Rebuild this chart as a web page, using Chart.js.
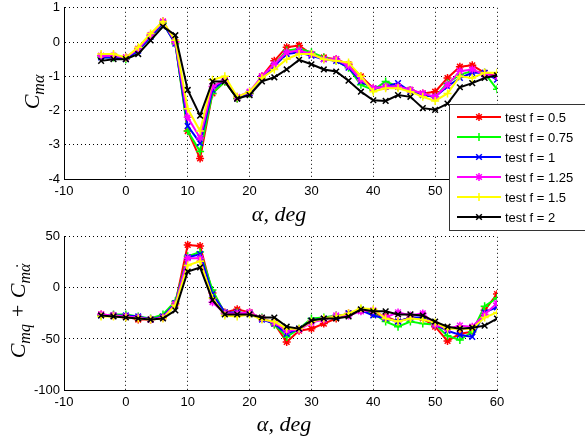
<!DOCTYPE html>
<html>
<head>
<meta charset="utf-8">
<script src="https://cdn.jsdelivr.net/npm/chart.js@4.4.0/dist/chart.umd.min.js"></script>
<style>
    html, body { margin: 0; padding: 0; background: #fff; }
    #marco { position: relative; width: 585px; height: 439px; overflow: hidden; }
    canvas { position: absolute; left: 0; }
    #graficaInferior { top: 225px; }
    #graficaSuperior { top: -4px; }
</style>
</head>
<body>
<div id="marco">
    <canvas id="graficaInferior" width="585" height="214"></canvas>
    <canvas id="graficaSuperior" width="585" height="236"></canvas>
</div>
<script>
// Ángulo de ataque (grados)
const angulos = [-4, -2, 0, 2, 4, 6, 8, 10, 12, 14, 16, 18, 20, 22, 24, 26, 28, 30, 32, 34, 36, 38, 40, 42, 44, 46, 48, 50, 52, 54, 56, 58, 60];

const etiquetas = ['test f = 0.5', 'test f = 0.75', 'test f = 1', 'test f = 1.25', 'test f = 1.5', 'test f = 2'];

// C_m alpha (gráfica superior)
const cma_f05  = [-0.4, -0.4, -0.45, -0.2, 0.2, 0.6, 0.0, -2.6, -3.4, -1.5, -1.15, -1.65, -1.5, -1.0, -0.55, -0.15, -0.1, -0.35, -0.45, -0.5, -0.65, -1.0, -1.35, -1.3, -1.3, -1.4, -1.5, -1.45, -1.05, -0.72, -0.68, -0.9, -1.0];
const cma_f075 = [-0.45, -0.45, -0.5, -0.25, 0.15, 0.55, -0.05, -2.6, -3.2, -1.5, -1.15, -1.65, -1.5, -1.05, -0.65, -0.25, -0.2, -0.3, -0.45, -0.55, -0.75, -1.25, -1.4, -1.15, -1.3, -1.4, -1.55, -1.6, -1.2, -0.95, -0.85, -0.9, -1.38];
const cma_f1   = [-0.45, -0.45, -0.5, -0.25, 0.15, 0.55, -0.05, -2.45, -2.95, -1.4, -1.1, -1.65, -1.5, -1.05, -0.7, -0.35, -0.3, -0.4, -0.5, -0.55, -0.75, -1.15, -1.35, -1.3, -1.2, -1.45, -1.55, -1.6, -1.3, -1.05, -0.9, -0.9, -1.1];
const cma_f125 = [-0.4, -0.4, -0.45, -0.2, 0.2, 0.6, 0.0, -2.2, -2.8, -1.3, -1.1, -1.6, -1.45, -1.0, -0.65, -0.3, -0.25, -0.35, -0.5, -0.5, -0.7, -1.1, -1.35, -1.3, -1.3, -1.4, -1.5, -1.6, -1.25, -0.85, -0.8, -0.95, -1.0];
const cma_f15  = [-0.35, -0.35, -0.45, -0.15, 0.25, 0.6, 0.05, -1.95, -2.6, -1.1, -1.0, -1.6, -1.45, -1.05, -0.8, -0.5, -0.35, -0.35, -0.5, -0.55, -0.6, -1.0, -1.45, -1.35, -1.35, -1.45, -1.6, -1.72, -1.5, -1.0, -1.05, -0.9, -0.9];
const cma_f2   = [-0.55, -0.5, -0.5, -0.35, 0.05, 0.45, 0.2, -1.4, -2.15, -1.15, -1.15, -1.65, -1.55, -1.15, -1.03, -0.8, -0.52, -0.65, -0.8, -0.86, -1.13, -1.45, -1.7, -1.72, -1.55, -1.6, -1.93, -1.98, -1.8, -1.32, -1.2, -1.05, -0.97];

// C_mq + C_m alpha punto (gráfica inferior)
const cmq_f05  = [-26, -27, -28, -31, -31, -29, -15, 42, 41, -5, -24, -21, -24, -30, -35, -53, -42, -40, -35, -30, -25, -22, -25, -28, -33, -29, -30, -38, -52, -45, -43, -22, -6];
const cmq_f075 = [-27, -26, -26, -28, -30, -26, -13, 31, 35, -2, -25, -24, -25, -29, -36, -48, -40, -30, -29, -27, -26, -21, -25, -33, -38, -33, -35, -36, -47, -51, -43, -18, -10];
const cmq_f1   = [-27, -27, -27, -28, -31, -28, -15, 30, 33, -6, -24, -24, -25, -31, -35, -45, -40, -32, -30, -29, -25, -22, -27, -30, -33, -29, -29, -36, -42, -46, -48, -24, -19];
const cmq_f125 = [-26, -27, -28, -29, -31, -29, -16, 29, 29, -14, -25, -25, -24, -30, -34, -42, -41, -34, -31, -27, -27, -23, -22, -29, -24, -27, -25, -36, -40, -37, -38, -26, -15];
const cmq_f15  = [-28, -28, -29, -30, -31, -30, -17, 22, 26, -10, -27, -28, -26, -31, -33, -40, -40, -33, -30, -28, -25, -20, -21, -30, -33, -30, -31, -34, -40, -40, -40, -29, -24];
const cmq_f2   = [-27, -28, -29, -30, -31, -30, -22, 16, 20, -12, -26, -26, -26, -29, -29, -38, -40, -32, -30, -30, -28, -21, -23, -23, -26, -26, -27, -33, -38, -40, -39, -37, -30];

const colores = ['#FF0000', '#00FF00', '#0000FF', '#FF00FF', '#FFFF00', '#000000'];
const marcadores = ['star', 'cross', 'crossRot', 'star', 'cross', 'crossRot'];

const fuenteTicks = { family: '"Liberation Sans", Arial, sans-serif', size: 13 };

function armarDatasets(series) {
    return series.map((valores, i) => ({
        label: etiquetas[i],
        data: angulos.map((a, j) => ({ x: a, y: valores[j] })),
        showLine: true,
        borderColor: colores[i],
        backgroundColor: colores[i],
        borderWidth: 2,
        pointStyle: marcadores[i],
        pointRadius: 4,
        pointBorderWidth: 1.5,
        pointBorderColor: colores[i],
        pointBackgroundColor: colores[i],
        tension: 0,
        order: series.length - i   // negro encima de todo
    }));
}

// Texto matemático con subíndices (C_mα, etc.); p[2] = punto sobre la última letra
function dibujarMate(ctx, partes, cx, cy, rotar) {
    const fNormal = 'italic 22px "Liberation Serif", "DejaVu Serif", serif';
    const fSub = 'italic 16px "Liberation Serif", "DejaVu Serif", serif';
    let total = 0;
    partes.forEach(p => {
        ctx.font = p[1] ? fSub : fNormal;
        total += ctx.measureText(p[0]).width;
    });
    ctx.save();
    ctx.translate(cx, cy);
    if (rotar) ctx.rotate(-Math.PI / 2);
    ctx.fillStyle = '#000';
    ctx.textBaseline = 'alphabetic';
    ctx.textAlign = 'left';
    let x = -total / 2;
    partes.forEach(p => {
        ctx.font = p[1] ? fSub : fNormal;
        const yBase = p[1] ? 11 : 6;
        ctx.fillText(p[0], x, yBase);
        const ancho = ctx.measureText(p[0]).width;
        if (p[2]) {
            const ult = p[0].slice(-1);
            const xc = x + ancho - ctx.measureText(ult).width / 2 + 1;
            ctx.textAlign = 'center';
            ctx.fillText('\u02D9', xc, yBase - 3);
            ctx.textAlign = 'left';
        }
        x += ancho;
    });
    ctx.restore();
}

function pluginTitulos(tituloY, xTitulo, yTitulo, posTituloX, extra) {
    return {
        id: 'titulos',
        afterDraw(chart) {
            const ctx = chart.ctx;
            dibujarMate(ctx, tituloY, xTitulo, yTitulo, true);
            dibujarMate(ctx, [['α, deg', false]], posTituloX[0], posTituloX[1], false);
            if (extra) extra(chart);
        }
    };
}

// Leyenda dibujada sobre la gráfica superior (como en MATLAB)
function dibujarLeyenda(chart) {
    const ctx = chart.ctx;
    ctx.save();
    ctx.fillStyle = '#fff';
    ctx.strokeStyle = '#333';
    ctx.lineWidth = 1;
    ctx.fillRect(449.5, 108.5, 140, 126);
    ctx.strokeRect(449.5, 108.5, 140, 126);
    etiquetas.forEach((txt, i) => {
        const y = 121 + 20 * i;
        ctx.strokeStyle = colores[i];
        ctx.lineWidth = 2;
        ctx.beginPath();
        ctx.moveTo(457, y);
        ctx.lineTo(501, y);
        ctx.stroke();
        ctx.fillStyle = colores[i];
        ctx.lineWidth = 1.5;
        if (Chart.helpers && Chart.helpers.drawPoint) {
            Chart.helpers.drawPoint(ctx, { pointStyle: marcadores[i], radius: 4, rotation: 0, borderWidth: 1.5 }, 479, y);
        }
        ctx.fillStyle = '#000';
        ctx.font = '13px "Liberation Sans", Arial, sans-serif';
        ctx.textBaseline = 'middle';
        ctx.textAlign = 'left';
        ctx.fillText(txt, 505, y + 1);
    });
    ctx.restore();
}

function opcionesEjes(yMin, yMax, yPaso, altoX) {
    const grid = { color: '#000', lineWidth: 1, drawTicks: false };
    const border = { display: true, color: '#000', width: 1, dash: [1, 3] };
    return {
        x: {
            type: 'linear', min: -10, max: 60,
            ticks: { stepSize: 10, font: fuenteTicks, color: '#000', padding: 5, maxRotation: 0 },
            grid: grid, border: border,
            afterFit: s => { s.height = altoX; }
        },
        y: {
            type: 'linear', min: yMin, max: yMax,
            ticks: { stepSize: yPaso, font: fuenteTicks, color: '#000', padding: 4 },
            grid: grid, border: border,
            afterFit: s => { s.width = 64; }
        }
    };
}

const opcionesBase = {
    responsive: false,
    animation: false,
    plugins: { legend: { display: false }, tooltip: { enabled: false } }
};

new Chart(document.getElementById('graficaSuperior'), {
    type: 'scatter',
    data: { datasets: armarDatasets([cma_f05, cma_f075, cma_f1, cma_f125, cma_f15, cma_f2]) },
    options: Object.assign({}, opcionesBase, {
        layout: { padding: { top: 8, right: 88, left: 0, bottom: 0 } },
        scales: opcionesEjes(-4, 1, 1, 53)
    }),
    plugins: [pluginTitulos([['C', false], ['mα', true]], 33, 96, [279, 219], dibujarLeyenda)]
});

new Chart(document.getElementById('graficaInferior'), {
    type: 'scatter',
    data: { datasets: armarDatasets([cmq_f05, cmq_f075, cmq_f1, cmq_f125, cmq_f15, cmq_f2]) },
    options: Object.assign({}, opcionesBase, {
        layout: { padding: { top: 8, right: 88, left: 0, bottom: 0 } },
        scales: opcionesEjes(-100, 50, 50, 49)
    }),
    plugins: [pluginTitulos([['C', false], ['mq', true], [' + ', false], ['C', false], ['mα', true, true]], 19, 86, [284, 200])]
});
</script>
</body>
</html>
